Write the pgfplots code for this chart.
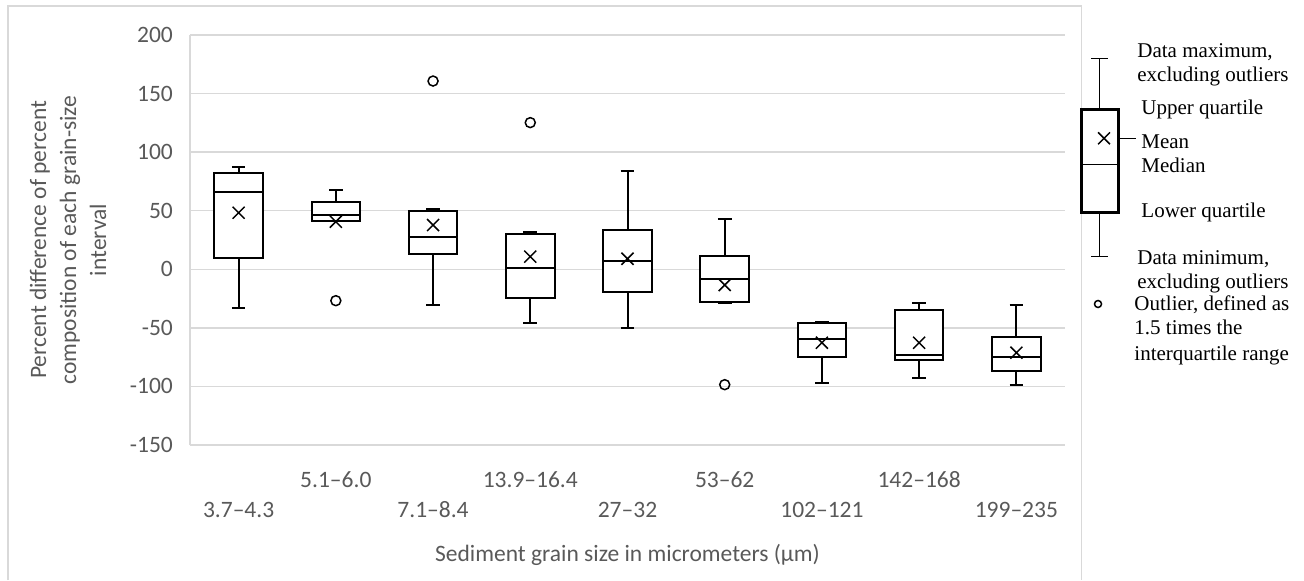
\documentclass[border=0pt]{standalone}
\usepackage{fontspec}
\setmainfont{Carlito}
\newfontfamily\tnr{Liberation Serif}
\usepackage{pgfplots}
\pgfplotsset{compat=1.18}
\usepgfplotslibrary{statistics}
\definecolor{gridgray}{HTML}{D9D9D9}
\definecolor{labelgray}{HTML}{595959}
\begin{document}
\begin{tikzpicture}
% page bounding box: 1304 x 580 px at 0.5pt per px
\path (0pt,0pt) rectangle (652pt,290pt);
% outer chart frame
\draw[gridgray, line width=0.75pt] (4pt,0pt) -- (4pt,287pt) -- (540.75pt,287pt) -- (540.75pt,0pt);

\begin{axis}[
  at={(95pt,67.5pt)}, anchor=south west,
  scale only axis, width=437.5pt, height=205pt,
  xmin=-0.5, xmax=8.5, ymin=-150, ymax=200,
  ytick={-150,-100,-50,0,50,100,150,200},
  yticklabels={-150,-100,-50,0,50,100,150,200},
  ymajorgrids, grid style={gridgray, line width=0.75pt},
  axis x line*=bottom, axis y line*=left,
  axis line style={gridgray, line width=0.75pt, -},
  major tick length=0pt,
  tick style={draw=none},
  xtick={0,2,4,6,8},
  xticklabels={3.7–4.3,7.1–8.4,27–32,102–121,199–235},
  extra x ticks={1,3,5,7},
  extra x tick labels={5.1–6.0,13.9–16.4,53–62,142–168},
  extra x tick style={xticklabel style={yshift=15pt}},
  xticklabel style={anchor=center, yshift=-32.5pt, font=\fontsize{11.75pt}{14pt}\selectfont, text=labelgray},
  yticklabel style={anchor=east, inner sep=0pt, xshift=-8.35pt, font=\fontsize{11.75pt}{14pt}\selectfont, text=labelgray},
  clip=false,
  boxplot/draw direction=y,
]
\pgfplotsset{boxstyle/.style={black, fill=white, line width=1pt, solid, mark=none}}
\addplot[boxstyle, boxplot prepared={draw position=0, lower whisker=-33, lower quartile=9.6, median=66.3, upper quartile=82.2, upper whisker=87.6, box extend=0.5, whisker extend=0.14}] coordinates {};
\addplot[boxstyle, boxplot prepared={draw position=1, lower whisker=41.2, lower quartile=41.2, median=46.3, upper quartile=57.2, upper whisker=67.7, box extend=0.5, whisker extend=0.14}] coordinates {};
\addplot[boxstyle, boxplot prepared={draw position=2, lower whisker=-30.8, lower quartile=12.8, median=27.3, upper quartile=50, upper whisker=51.7, box extend=0.5, whisker extend=0.14}] coordinates {};
\addplot[boxstyle, boxplot prepared={draw position=3, lower whisker=-45.6, lower quartile=-24.8, median=0.8, upper quartile=29.8, upper whisker=31.8, box extend=0.5, whisker extend=0.14}] coordinates {};
\addplot[boxstyle, boxplot prepared={draw position=4, lower whisker=-50.1, lower quartile=-19.7, median=6.8, upper quartile=33.3, upper whisker=84.2, box extend=0.5, whisker extend=0.14}] coordinates {};
\addplot[boxstyle, boxplot prepared={draw position=5, lower whisker=-29, lower quartile=-27.6, median=-8, upper quartile=11.6, upper whisker=42.9, box extend=0.5, whisker extend=0.14}] coordinates {};
\addplot[boxstyle, boxplot prepared={draw position=6, lower whisker=-97.1, lower quartile=-74.6, median=-59.5, upper quartile=-46.1, upper whisker=-45, box extend=0.5, whisker extend=0.14}] coordinates {};
\addplot[boxstyle, boxplot prepared={draw position=7, lower whisker=-93.1, lower quartile=-77.7, median=-72.9, upper quartile=-34.8, upper whisker=-28.5, box extend=0.5, whisker extend=0.14}] coordinates {};
\addplot[boxstyle, boxplot prepared={draw position=8, lower whisker=-99, lower quartile=-86.6, median=-74.6, upper quartile=-57.5, upper whisker=-30.8, box extend=0.5, whisker extend=0.14}] coordinates {};
% means
\addplot[only marks, mark=x, mark size=4.25pt, black, line width=0.75pt] coordinates {
  (0,48.3) (1,40.6) (2,37.8) (3,10.8) (4,9) (5,-13.4) (6,-62.7) (7,-62.7) (8,-71.2)};
% outliers
\addplot[only marks, mark=o, mark size=2.5pt, black, line width=0.75pt] coordinates {
  (1,-26.8) (2,160.7) (3,125.2) (5,-98.5)};
\end{axis}

% legend pictogram: x = px from 1070, y = px above image row 320
\begin{axis}[
  at={(535pt,130pt)}, anchor=south west,
  scale only axis, width=35pt, height=140pt,
  xmin=0, xmax=70, ymin=0, ymax=280,
  hide axis, clip=false,
  boxplot/draw direction=y,
]
\addplot[black, fill=white, line width=0.6pt, solid, mark=none,
  boxplot/every box/.style={line width=1.5pt},
  boxplot/every median/.style={line width=0.5pt},
  boxplot prepared={draw position=29.5, lower whisker=63.3, lower quartile=107.3, median=155, upper quartile=210, upper whisker=261.7, box extend=37, whisker extend=16.7}] coordinates {};
\addplot[black, line width=0.6pt, mark=none] coordinates {(48,181.7) (66,181.7)};
\addplot[only marks, mark=x, mark size=4.2pt, black, line width=0.75pt] coordinates {(34,181.7)};
\addplot[only marks, mark=o, mark size=1.75pt, black, line width=0.75pt] coordinates {(28,16)};
\end{axis}

% legend texts
\begin{scope}[every node/.style={anchor=base west, inner sep=0pt, font=\tnr\fontsize{10.5pt}{12.5pt}\selectfont, text=black}]
\node at (568.5pt,261.35pt) {Data maximum,};
\node at (568.5pt,249.35pt) {excluding outliers};
\node at (570.5pt,232.85pt) {Upper quartile};
\node at (570.5pt,215.85pt) {Mean};
\node at (570.5pt,203.85pt) {Median};
\node at (570.5pt,181.15pt) {Lower quartile};
\node at (568.5pt,157.5pt) {Data minimum,};
\node at (568.5pt,145.5pt) {excluding outliers};
\node at (567pt,135pt) {Outlier, defined as};
\node at (567pt,122.5pt) {1.5 times the};
\node at (567pt,110pt) {interquartile range};
\end{scope}

% axis titles
\node[rotate=90, align=center, text=labelgray, font=\fontsize{11.75pt}{15pt}\selectfont] at (34pt,170pt)
  {Percent difference of percent\\composition of each grain-size\\interval};
\node[text=labelgray, font=\fontsize{11.75pt}{14pt}\selectfont] at (313.75pt,12.5pt)
  {Sediment grain size in micrometers (µm)};
\end{tikzpicture}
\end{document}
